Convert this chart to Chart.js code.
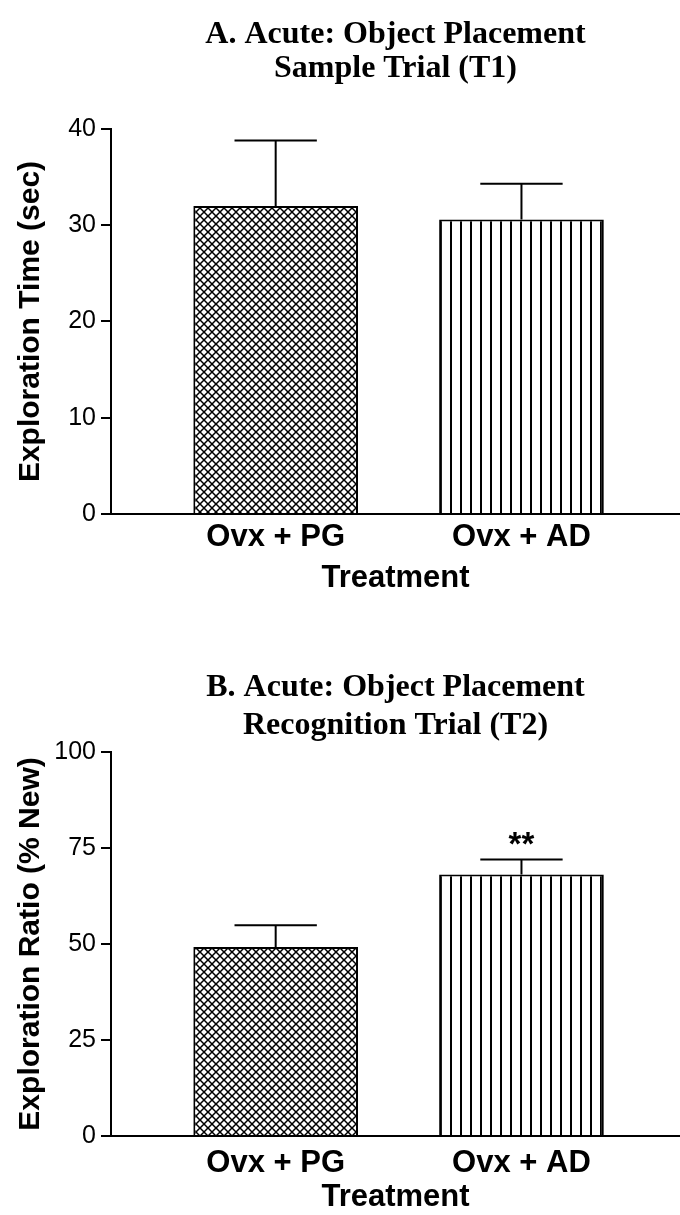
<!DOCTYPE html>
<html>
<head>
<meta charset="utf-8">
<script src="https://cdn.jsdelivr.net/npm/chart.js@4.4.1/dist/chart.umd.min.js"></script>
<style>
  html, body { margin: 0; padding: 0; background: #fff; overflow: hidden; }
  .panel { position: absolute; left: 0; width: 680px; }
  #panelA { top: 0; height: 600px; }
  #panelB { top: 640px; height: 575px; }
</style>
</head>
<body>
<div class="panel" id="panelA"><canvas id="chartA"></canvas></div>
<div class="panel" id="panelB"><canvas id="chartB"></canvas></div>
<script>
const groups = ['Ovx + PG', 'Ovx + AD'];

// A: sample trial, exploration time in seconds (mean, SEM)
const sampleMeans = [32.0, 30.6];
const sampleSems = [6.8, 3.7];
const sampleTicks = [0, 10, 20, 30, 40];

// B: recognition trial, exploration ratio in % new (mean, SEM)
const recogMeans = [49.2, 68.1];
const recogSems = [5.7, 3.9];
const recogTicks = [0, 25, 50, 75, 100];
const recogStars = ['', '**'];

const SANS = "'Liberation Sans', Arial, Helvetica, sans-serif";
const SERIF = "'Liberation Serif', 'Times New Roman', serif";

// fill patterns: cross-hatch for PG, vertical stripes for AD
function hatch(kind) {
  const c = document.createElement('canvas');
  const s = kind === 'cross' ? 8 : 10;
  c.width = s; c.height = s;
  const g = c.getContext('2d');
  g.fillStyle = '#fff';
  g.fillRect(0, 0, s, s);
  g.strokeStyle = '#000';
  g.beginPath();
  if (kind === 'cross') {
    g.lineWidth = 1.5;
    g.moveTo(-1, -1); g.lineTo(s + 1, s + 1);
    g.moveTo(-1, s + 1); g.lineTo(s + 1, -1);
  } else {
    g.lineWidth = 2;
    g.moveTo(1, 0); g.lineTo(1, s);
  }
  g.stroke();
  return g.createPattern(c, 'repeat');
}

// SEM whiskers (upper half only) plus significance marks
const errorBars = {
  id: 'errorBars',
  afterDatasetsDraw(chart, args, opts) {
    const { ctx, scales: { y } } = chart;
    const bars = chart.getDatasetMeta(0).data;
    ctx.save();
    ctx.strokeStyle = '#000';
    ctx.lineWidth = 2;
    bars.forEach((bar, i) => {
      const top = y.getPixelForValue(opts.means[i] + opts.sems[i]);
      const half = bar.width / 4;
      ctx.beginPath();
      ctx.moveTo(bar.x, bar.y);
      ctx.lineTo(bar.x, top);
      ctx.moveTo(bar.x - half, top);
      ctx.lineTo(bar.x + half, top);
      ctx.stroke();
      if (opts.marks && opts.marks[i]) {
        ctx.fillStyle = '#000';
        ctx.font = 'bold 33px ' + SANS;
        ctx.textAlign = 'center';
        ctx.textBaseline = 'alphabetic';
        ctx.fillText(opts.marks[i], bar.x, top - 4);
      }
    });
    ctx.restore();
  }
};

function drawPanel(id, cfg) {
  const ctx = document.getElementById(id).getContext('2d');
  return new Chart(ctx, {
    type: 'bar',
    data: {
      datasets: [{
        data: cfg.means.map((m, i) => ({ x: i + 1, y: m })),
        backgroundColor: [hatch('cross'), hatch('vert')],
        borderColor: '#000',
        borderWidth: 2,
        borderSkipped: 'start',
        barPercentage: 0.67,
        categoryPercentage: 1
      }]
    },
    options: {
      responsive: true,
      maintainAspectRatio: false,
      animation: false,
      layout: { padding: 0 },
      plugins: {
        legend: { display: false },
        tooltip: { enabled: false },
        title: {
          display: true,
          text: cfg.title,
          fullSize: false,
          color: '#000',
          font: { family: SERIF, size: 32, weight: 'bold', lineHeight: cfg.titleLine },
          padding: cfg.titlePad
        },
        errorBars: { means: cfg.means, sems: cfg.sems, marks: cfg.marks }
      },
      scales: {
        x: {
          type: 'linear',
          offset: false,
          min: 0.33,
          max: 2.645,
          afterBuildTicks: s => { s.ticks = groups.map((_, i) => ({ value: i + 1 })); },
          ticks: {
            callback: v => groups[v - 1],
            color: '#000',
            font: { family: SANS, size: 31, weight: 'bold', lineHeight: 1.2 },
            padding: cfg.xTickPad,
            maxRotation: 0,
            autoSkip: false
          },
          grid: { display: false, drawTicks: false },
          border: { display: true, color: '#000', width: 2 },
          title: {
            display: true,
            text: 'Treatment',
            color: '#000',
            font: { family: SANS, size: 31, weight: 'bold', lineHeight: 1.2 },
            padding: cfg.xTitlePad
          }
        },
        y: {
          min: 0,
          max: cfg.ticks[cfg.ticks.length - 1],
          afterBuildTicks: s => { s.ticks = cfg.ticks.map(v => ({ value: v })); },
          afterFit: s => { s.width = 111; },
          ticks: { color: '#000', font: { family: SANS, size: 25 }, padding: 5 },
          grid: { drawOnChartArea: false, drawTicks: true, tickLength: 10, color: '#000', lineWidth: 2 },
          border: { display: true, color: '#000', width: 2 },
          title: {
            display: true,
            text: cfg.yTitle,
            color: '#000',
            font: { family: SANS, size: 30, weight: 'bold' },
            padding: { top: 13, bottom: 0 }
          }
        }
      }
    },
    plugins: [errorBars]
  });
}

drawPanel('chartA', {
  title: ['A. Acute: Object Placement', 'Sample Trial (T1)'],
  titleLine: 1.07,
  titlePad: { top: 17.5, bottom: 43 },
  yTitle: 'Exploration Time (sec)',
  means: sampleMeans,
  sems: sampleSems,
  ticks: sampleTicks,
  xTickPad: 4.4,
  xTitlePad: { top: -0.6, bottom: 3.4 }
});

drawPanel('chartB', {
  title: ['B. Acute: Object Placement', 'Recognition Trial (T2)'],
  titleLine: 1.18,
  titlePad: { top: 28.7, bottom: 7.7 },
  yTitle: 'Exploration Ratio (% New)',
  means: recogMeans,
  sems: recogSems,
  marks: recogStars,
  ticks: recogTicks,
  xTickPad: 8.4,
  xTitlePad: { top: -11.6, bottom: -0.6 }
});
</script>
</body>
</html>
